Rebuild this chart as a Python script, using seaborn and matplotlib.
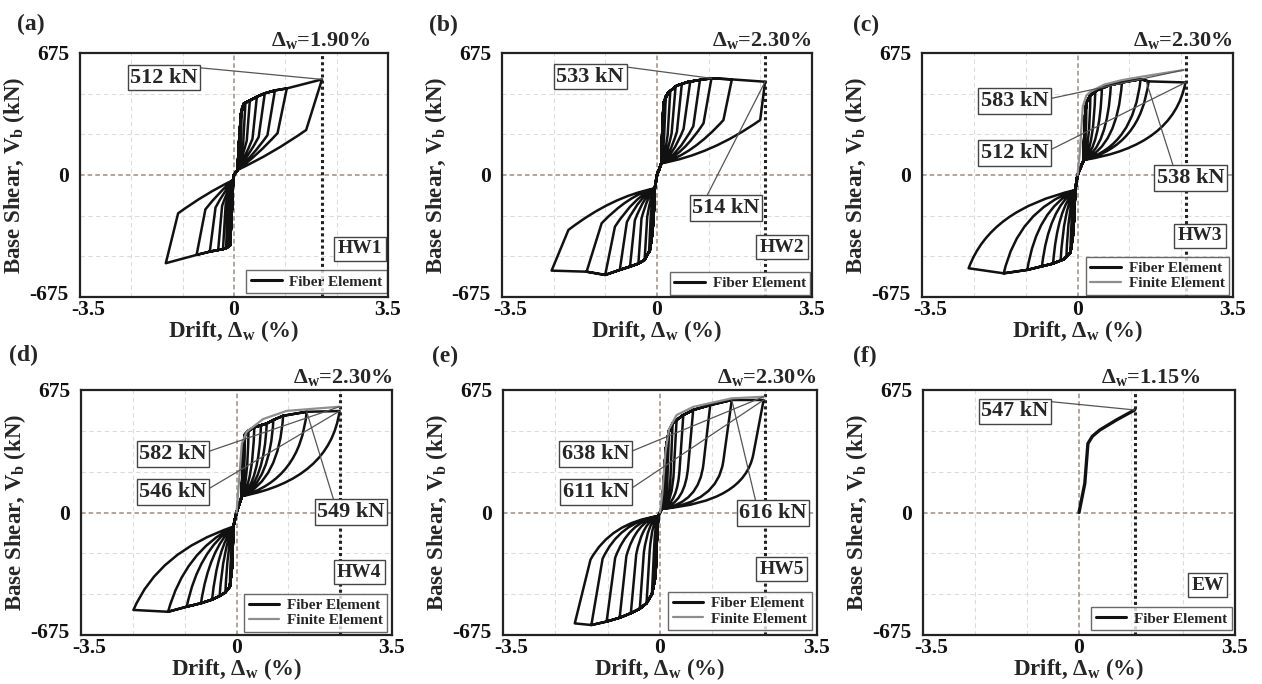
import matplotlib
matplotlib.use("Agg")
import matplotlib.pyplot as plt
import matplotlib.transforms as mtransforms
from matplotlib.path import Path
from matplotlib.patches import PathPatch
from matplotlib.lines import Line2D
import pandas as pd
import seaborn as sns

# ---------------------------------------------------------------- data
panel_letters = ["(a)", "(b)", "(c)", "(d)", "(e)", "(f)"]
wall_names = ["HW1", "HW2", "HW3", "HW4", "HW5", "EW"]
limit_labels = ["1.90", "2.30", "2.30", "2.30", "2.30", "1.15"]
limit_drift = [2.00, 2.44, 2.44, 2.32, 2.33, 1.25]

# HW1
HW1_bb_pos_x = [0, 0.08, 0.12, 0.16, 0.22, 0.36, 0.52, 0.70, 0.93, 1.20, 2.00]
HW1_bb_pos_y = [0, 28, 200, 340, 395, 412, 433, 452, 468, 479, 529]
HW1_peak_pos_x = [0.18, 0.26, 0.36, 0.52, 0.70, 0.93, 1.20, 2.00]
HW1_peak_pos_y = [370, 400, 412, 433, 452, 468, 479, 529]
HW1_knee_pos_x = [0.15, 0.21, 0.29, 0.42, 0.56, 0.76, 0.99, 1.64]
HW1_knee_pos_y = [170, 180, 190, 200, 210, 220, 232, 249]
HW1_pinch_pos = [0.08, 28]
HW1_bb_neg_x = [0, -0.02, -0.05, -0.09, -0.18, -0.25, -0.36, -0.55, -0.85, -1.55]
HW1_bb_neg_y = [0, -28, -200, -390, -405, -410, -415, -424, -442, -488]
HW1_peak_neg_x = [-0.09, -0.13, -0.18, -0.25, -0.36, -0.55, -0.85, -1.55]
HW1_peak_neg_y = [-390, -398, -405, -410, -415, -424, -442, -488]
HW1_knee_neg_x = [-0.07, -0.10, -0.14, -0.19, -0.27, -0.42, -0.65, -1.27]
HW1_knee_neg_y = [-150, -155, -160, -165, -170, -180, -190, -212]
HW1_pinch_neg = [-0.02, -28]

# HW2
HW2_bb_pos_x = [0, 0.10, 0.12, 0.15, 0.25, 0.45, 0.70, 1.00, 1.23, 1.69, 2.44]
HW2_bb_pos_y = [0, 65, 250, 400, 455, 495, 515, 527, 535, 529, 516]
HW2_peak_pos_x = [0.20, 0.30, 0.42, 0.56, 0.75, 0.97, 1.23, 1.69, 2.44]
HW2_peak_pos_y = [440, 465, 490, 503, 517, 526, 535, 529, 516]
HW2_knee_pos_x = [0.16, 0.24, 0.33, 0.45, 0.60, 0.82, 1.05, 1.50, 2.33]
HW2_knee_pos_y = [210, 220, 230, 240, 255, 270, 286, 304, 304]
HW2_pinch_pos = [0.10, 65]
HW2_bb_neg_x = [0, -0.05, -0.08, -0.12, -0.16, -0.28, -0.42, -0.61, -0.84, -1.17, -1.59, -2.38]
HW2_bb_neg_y = [0, -74, -250, -350, -415, -470, -490, -507, -525, -553, -535, -529]
HW2_peak_neg_x = [-0.12, -0.18, -0.28, -0.42, -0.61, -0.84, -1.17, -1.59, -2.38]
HW2_peak_neg_y = [-350, -430, -470, -490, -507, -525, -553, -535, -529]
HW2_knee_neg_x = [-0.09, -0.14, -0.22, -0.35, -0.50, -0.68, -0.95, -1.25, -2.00]
HW2_knee_neg_y = [-200, -220, -230, -240, -250, -260, -286, -267, -304]
HW2_pinch_neg = [-0.05, -74]

# HW3
HW3_bb_pos_x = [0, 0.14, 0.16, 0.20, 0.29, 0.45, 0.70, 1.00, 1.42, 1.60, 2.43]
HW3_bb_pos_y = [0, 83, 300, 400, 442, 470, 495, 512, 530, 518, 512]
HW3_peak_pos_x = [0.20, 0.29, 0.40, 0.55, 0.75, 1.00, 1.42, 1.60, 2.43]
HW3_peak_pos_y = [400, 442, 465, 482, 497, 512, 530, 518, 512]
HW3_knee_pos_x = HW3_peak_pos_x
HW3_knee_pos_y = HW3_peak_pos_y
HW3_pinch_pos = [0.14, 83]
HW3_bb_neg_x = [0, -0.05, -0.08, -0.10, -0.16, -0.30, -0.55, -0.80, -1.13, -1.66, -2.45]
HW3_bb_neg_y = [0, -83, -250, -330, -430, -465, -490, -505, -525, -544, -516]
HW3_peak_neg_x = [-0.10, -0.16, -0.25, -0.38, -0.55, -0.80, -1.13, -1.66, -2.45]
HW3_peak_neg_y = [-330, -430, -455, -475, -490, -505, -525, -544, -516]
HW3_knee_neg_x = HW3_peak_neg_x
HW3_knee_neg_y = HW3_peak_neg_y
HW3_pinch_neg = [-0.05, -83]
HW3_fe_x = [0, 0.05, 0.12, 0.20, 0.29, 0.60, 1.00, 1.42, 2.39]
HW3_fe_y = [0, 120, 380, 440, 461, 500, 525, 543, 581]

# HW4
HW4_bb_pos_x = [0, 0.12, 0.14, 0.19, 0.27, 0.40, 0.68, 0.83, 1.05, 1.58, 2.32]
HW4_bb_pos_y = [0, 90, 300, 430, 450, 470, 490, 510, 533, 555, 559]
HW4_peak_pos_x = [0.19, 0.27, 0.40, 0.55, 0.68, 0.83, 1.05, 1.58, 2.32]
HW4_peak_pos_y = [430, 450, 470, 480, 490, 510, 533, 555, 559]
HW4_knee_pos_x = HW4_peak_pos_x
HW4_knee_pos_y = HW4_peak_pos_y
HW4_pinch_pos = [0.12, 90]
HW4_bb_neg_x = [0, -0.07, -0.10, -0.15, -0.25, -0.38, -0.55, -0.80, -1.12, -1.54, -2.32]
HW4_bb_neg_y = [0, -78, -300, -409, -440, -460, -480, -500, -519, -547, -537]
HW4_peak_neg_x = [-0.10, -0.15, -0.25, -0.38, -0.55, -0.80, -1.12, -1.54, -2.32]
HW4_peak_neg_y = [-300, -409, -440, -460, -480, -500, -519, -547, -537]
HW4_knee_neg_x = HW4_peak_neg_x
HW4_knee_neg_y = HW4_peak_neg_y
HW4_pinch_neg = [-0.07, -78]
HW4_fe_x = [0, 0.05, 0.12, 0.23, 0.60, 1.13, 2.32]
HW4_fe_y = [0, 150, 380, 445, 515, 560, 583]

# HW5
HW5_bb_pos_x = [0, 0.04, 0.08, 0.13, 0.20, 0.28, 0.37, 0.52, 0.74, 1.12, 1.60, 2.31]
HW5_bb_pos_y = [0, 20, 150, 350, 450, 490, 510, 537, 565, 592, 620, 620]
HW5_peak_pos_x = [0.13, 0.20, 0.28, 0.37, 0.52, 0.74, 1.12, 1.60, 2.31]
HW5_peak_pos_y = [350, 450, 490, 510, 537, 565, 592, 620, 620]
HW5_knee_pos_x = [0.11, 0.17, 0.24, 0.31, 0.44, 0.63, 0.97, 1.41, 2.08]
HW5_knee_pos_y = [180, 220, 230, 240, 250, 260, 270, 280, 320]
HW5_pinch_pos = [0.04, 20]
HW5_bb_neg_x = [0, -0.04, -0.07, -0.10, -0.18, -0.30, -0.45, -0.65, -0.90, -1.19, -1.53, -1.90]
HW5_bb_neg_y = [0, -20, -150, -350, -450, -500, -530, -555, -580, -601, -620, -611]
HW5_peak_neg_x = [-0.10, -0.18, -0.30, -0.45, -0.65, -0.90, -1.19, -1.53, -1.90]
HW5_peak_neg_y = [-350, -450, -500, -530, -555, -580, -601, -620, -611]
HW5_knee_neg_x = [-0.07, -0.13, -0.23, -0.36, -0.53, -0.75, -1.00, -1.28, -1.55]
HW5_knee_neg_y = [-160, -190, -210, -220, -230, -240, -250, -255, -260]
HW5_pinch_neg = [-0.04, -20]
HW5_fe_x = [0, 0.05, 0.12, 0.20, 0.37, 0.74, 1.60, 2.31]
HW5_fe_y = [0, 100, 330, 460, 537, 582, 629, 638]

# EW
EW_x = [0, 0.13, 0.20, 0.30, 0.47, 0.84, 1.25]
EW_y = [0, 160, 380, 420, 455, 510, 565]

# annotation labels (kN values) per panel
ann_text = [["512 kN"], ["533 kN", "514 kN"], ["583 kN", "512 kN", "538 kN"],
            ["582 kN", "546 kN", "549 kN"], ["638 kN", "611 kN", "616 kN"], ["547 kN"]]

# ---------------------------------------------------------------- style
sns.set_theme(style="white")
plt.rcParams["font.family"] = ["Liberation Serif", "DejaVu Serif"]
plt.rcParams["font.weight"] = "bold"
plt.rcParams["mathtext.fontset"] = "custom"
plt.rcParams["mathtext.rm"] = "Liberation Serif:bold"
plt.rcParams["mathtext.it"] = "Liberation Serif:bold"
plt.rcParams["mathtext.bf"] = "Liberation Serif:bold"
plt.rcParams["axes.unicode_minus"] = False

FIBER_C = "#111111"
FE_C = "#8e8e8e"
W, H = 1262, 684

fig = plt.figure(figsize=(W / 100, H / 100), dpi=100)

# axes boxes in pixels: left, right, top, bottom
boxes = [(80, 388, 53, 297), (502, 812, 53, 297), (922, 1233, 53, 297),
         (81, 392, 390, 635), (503, 817, 390, 635), (923, 1235, 390, 635)]
letter_pos = [(31, 24), (443, 25), (866, 25), (23, 355), (445, 356), (865, 356)]
limtext_x = [1.98, 2.36, 2.36, 2.40, 2.38, 1.61]
name_pos = [(0.909, 0.197), (0.903, 0.203), (0.894, 0.250),
            (0.895, 0.257), (0.887, 0.269), (0.912, 0.204)]
legend_anchor = [(0.997, 0.016), (0.995, 0.008), (0.988, 0.008),
                 (0.985, 0.012), (0.983, 0.02), (0.99, 0.02)]
# annotation geometry: (box x, box y, target x, target y, relpos)
ann_geom = [
    [(-1.59, 539, 2.00, 529, (1, 1))],
    [(-1.51, 544, 1.23, 535, (1, 1)), (1.56, -182, 2.44, 516, (0.2, 1))],
    [(-1.42, 409, 2.39, 581, (1, 0.6)), (-1.42, 122, 2.43, 512, (1, 0.6)),
     (2.55, -17, 1.55, 516, (0.25, 1))],
    [(-1.43, 322, 2.32, 583, (1, 0.6)), (-1.43, 113, 2.32, 559, (1, 0.6)),
     (2.58, 3, 1.58, 555, (0.25, 1))],
    [(-1.43, 322, 2.31, 638, (1, 0.6)), (-1.43, 113, 2.31, 620, (1, 0.6)),
     (2.52, -3, 1.60, 620, (0.25, 1))],
    [(-1.44, 557, 1.25, 565, (1, 1))],
]
shapes = {  # control-point shape of unloading curves (pos a,b ; neg a,b)
    "HW1": ((0.5, 0.6), (0.5, 0.6)),
    "HW2": ((0.5, 0.8), (0.5, 0.8)),
    "HW3": ((0.12, 0.82), (0.2, 0.75)),
    "HW4": ((0.1, 0.8), (0.25, 0.7)),
    "HW5": ((0.1, 0.87), (0.3, 0.85)),
}


def hysteresis_path(bpx, bpy, ppx, ppy, kpx, kpy, pinp, bnx, bny, pnx, pny, knx, kny, pinn, shp):
    verts = [(0.0, 0.0)]
    codes = [Path.MOVETO]
    (ap, bp), (an, bn) = shp
    for i in range(len(ppx)):
        for x, y in zip(bpx, bpy):
            if x < ppx[i] - 1e-6:
                verts.append((x, y)); codes.append(Path.LINETO)
        verts += [(ppx[i], ppy[i]), (kpx[i], kpy[i])]
        codes += [Path.LINETO, Path.LINETO]
        cx = kpx[i] + ap * (pinp[0] - kpx[i])
        cy = kpy[i] + bp * (pinp[1] - kpy[i])
        verts += [(cx, cy), tuple(pinp)]
        codes += [Path.CURVE3, Path.CURVE3]
        for x, y in zip(bnx, bny):
            if x > pnx[i] + 1e-6:
                verts.append((x, y)); codes.append(Path.LINETO)
        verts += [(pnx[i], pny[i]), (knx[i], kny[i])]
        codes += [Path.LINETO, Path.LINETO]
        cx = knx[i] + an * (pinn[0] - knx[i])
        cy = kny[i] + bn * (pinn[1] - kny[i])
        verts += [(cx, cy), tuple(pinn)]
        codes += [Path.CURVE3, Path.CURVE3]
    return Path(verts, codes)


G = globals()
for k in range(6):
    l, r, t, b = boxes[k]
    ax = fig.add_axes([l / W, 1 - b / H, (r - l) / W, (b - t) / H])
    ax.set_xlim(-3.5, 3.5)
    ax.set_ylim(-675, 675)
    ax.set_facecolor("white")

    # faint grid and reference lines
    for v in [-7 / 3, -7 / 6, 7 / 6, 7 / 3]:
        ax.axvline(v, color="#dcdcdc", ls=(0, (4, 3)), lw=0.8, zorder=0)
    for h in [-450, -225, 225, 450]:
        ax.axhline(h, color="#dcdcdc", ls=(0, (4, 3)), lw=0.8, zorder=0)
    ax.axhline(0, color="#9b8b80", ls=(0, (3, 2)), lw=1.1, zorder=1)
    ax.axvline(0, color="#9b8b80", ls=(0, (3, 2)), lw=1.1, zorder=1)
    ax.axvline(limit_drift[k], color="#222222", ls=(0, (1, 1)), lw=2.2, zorder=1)

    name = wall_names[k]
    handles = [Line2D([], [], color=FIBER_C, lw=2.2)]
    labels = ["Fiber Element"]
    if name != "EW":
        p = hysteresis_path(G[name + "_bb_pos_x"], G[name + "_bb_pos_y"],
                            G[name + "_peak_pos_x"], G[name + "_peak_pos_y"],
                            G[name + "_knee_pos_x"], G[name + "_knee_pos_y"],
                            G[name + "_pinch_pos"],
                            G[name + "_bb_neg_x"], G[name + "_bb_neg_y"],
                            G[name + "_peak_neg_x"], G[name + "_peak_neg_y"],
                            G[name + "_knee_neg_x"], G[name + "_knee_neg_y"],
                            G[name + "_pinch_neg"], shapes[name])
        ax.add_patch(PathPatch(p, fill=False, ec=FIBER_C, lw=1.8,
                               joinstyle="round", capstyle="round", zorder=3))
        if name + "_fe_x" in G:
            fe = pd.DataFrame({"x": G[name + "_fe_x"], "y": G[name + "_fe_y"]})
            sns.lineplot(data=fe, x="x", y="y", sort=False, estimator=None,
                         color=FE_C, lw=1.6, ax=ax, zorder=4)
            handles.append(Line2D([], [], color=FE_C, lw=1.6))
            labels.append("Finite Element")
    else:
        ew = pd.DataFrame({"x": EW_x, "y": EW_y})
        sns.lineplot(data=ew, x="x", y="y", sort=False, estimator=None,
                     color=FIBER_C, lw=2.4, ax=ax, zorder=3)

    # annotations
    for txt, (bx, by, tx, ty, rp) in zip(ann_text[k], ann_geom[k]):
        ax.annotate(txt, xy=(tx, ty), xytext=(bx, by), textcoords="data",
                    ha="center", va="center", fontsize=16, fontweight="bold",
                    annotation_clip=False, zorder=6,
                    bbox=dict(boxstyle="square,pad=0.12", fc="white", ec="#444444", lw=1.0),
                    arrowprops=dict(arrowstyle="-", color="#555555", lw=0.9,
                                    relpos=rp, shrinkA=0, shrinkB=0))

    # wall name box
    ax.text(name_pos[k][0], name_pos[k][1], name, transform=ax.transAxes,
            ha="center", va="center", fontsize=14, fontweight="bold", zorder=6,
            bbox=dict(boxstyle="square,pad=0.18", fc="white", ec="#444444", lw=1.0))

    leg = ax.legend(handles, labels, loc="lower right", bbox_to_anchor=legend_anchor[k],
                    bbox_transform=ax.transAxes, frameon=True, fancybox=False,
                    fontsize=11, handlelength=2.0, handletextpad=0.5,
                    borderpad=0.3, labelspacing=0.1, borderaxespad=0)
    leg.get_frame().set_edgecolor("#444444")
    leg.get_frame().set_linewidth(1.0)
    leg.set_zorder(7)
    for tx in leg.get_texts():
        tx.set_fontweight("bold")

    # limit text
    trans = mtransforms.blended_transform_factory(ax.transData, ax.transAxes)
    ax.text(limtext_x[k], 1.008, "Δ$_\\mathrm{w}$=" + limit_labels[k] + "%", transform=trans,
            ha="center", va="bottom", fontsize=16, fontweight="bold")

    ax.set_xticks([-3.5, 0, 3.5])
    ax.set_xticklabels(["-3.5", "0", "3.5"])
    ax.set_yticks([-675, 0, 675])
    ax.set_yticklabels(["-675", "0", "675"])
    ax.tick_params(axis="both", length=0, labelsize=15.5, colors="#111111")
    ax.tick_params(axis="x", pad=2)
    ax.tick_params(axis="y", pad=8)
    for lab in ax.get_xticklabels() + ax.get_yticklabels():
        lab.set_fontweight("bold")
    # nudge the two corner labels apart (as in the reference they nearly touch)
    xl0 = ax.get_xticklabels()[0]
    xl0.set_transform(xl0.get_transform() +
                      mtransforms.ScaledTranslation(6 / 72, 0, fig.dpi_scale_trans))
    yl0 = ax.get_yticklabels()[0]
    yl0.set_transform(yl0.get_transform() +
                      mtransforms.ScaledTranslation(0, 3 / 72, fig.dpi_scale_trans))
    ax.set_xlabel("Drift, Δ$_\\mathrm{w}$ (%)", fontsize=16.5, fontweight="bold", labelpad=-1)
    ax.set_ylabel("Base Shear, V$_\\mathrm{b}$ (kN)", fontsize=16.5, fontweight="bold", labelpad=2)
    for s in ax.spines.values():
        s.set_visible(True)
        s.set_color("#222222")
        s.set_linewidth(1.6)
        s.set_zorder(8)

    fig.text(letter_pos[k][0] / W, 1 - letter_pos[k][1] / H, panel_letters[k],
             ha="center", va="center", fontsize=17, fontweight="bold")

fig.savefig("out.png", dpi=100, facecolor="white")
